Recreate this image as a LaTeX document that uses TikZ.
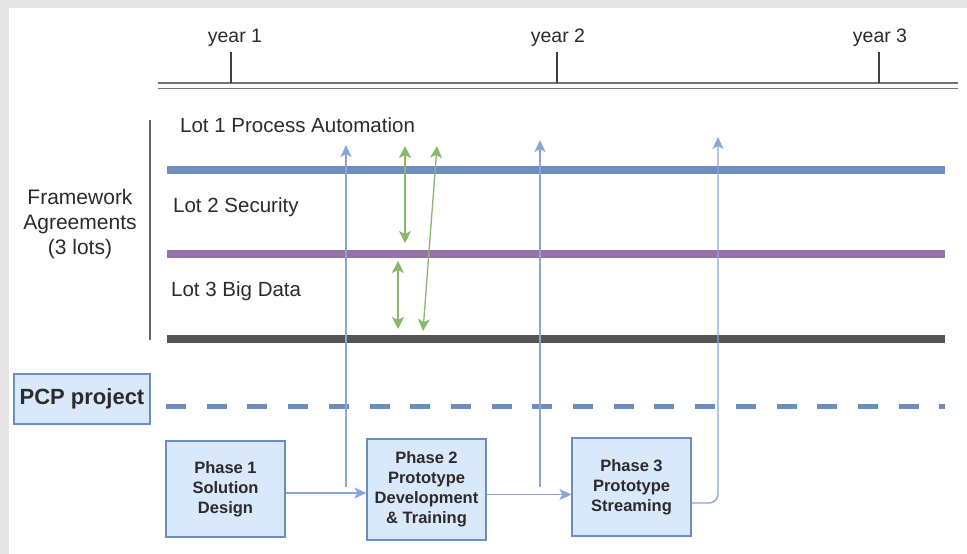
\documentclass[tikz,border=0pt]{standalone}
\usepackage{fontspec}
\setmainfont{Liberation Sans}
\usetikzlibrary{arrows.meta}
\definecolor{bluebar}{HTML}{6C8EBF}
\definecolor{purplebar}{HTML}{9673A6}
\definecolor{darkbar}{HTML}{555555}
\definecolor{greenarr}{HTML}{8CB86E}
\definecolor{boxfill}{HTML}{DAE8FC}
\definecolor{lightblue}{HTML}{8AA6D8}
\definecolor{bgstrip}{HTML}{E6E6E6}
\definecolor{txt}{HTML}{2B2B2B}
\begin{document}
\begin{tikzpicture}[x=1pt,y=-1pt,
  lbl/.style={font=\fontsize{19.5}{25}\selectfont, text=txt, inner sep=0pt},
  phasebox/.style={draw=bluebar, fill=boxfill, line width=1.2pt, minimum width=119pt,
    align=center, font=\bfseries\fontsize{16.5}{20}\selectfont, text=txt, inner sep=0pt},
  barline/.style={line width=8pt},
  conn/.style={draw=lightblue, line width=1.4pt, -{Stealth[length=12pt,width=11pt,inset=3pt]}},
  greenarrow/.style={draw=greenarr, line width=1.6pt,
    {Stealth[length=12pt,width=12pt,inset=3pt]}-{Stealth[length=12pt,width=12pt,inset=3pt]}}
]
\fill[white] (0,0) rectangle (967,554);
\fill[bgstrip] (0,0) rectangle (967,8);
\fill[bgstrip] (0,0) rectangle (8.5,554);
\useasboundingbox (0,0) rectangle (967,554);

% timeline
\draw[black!55, line width=1.4pt] (158,83) -- (958,83);
\draw[black!55, line width=1.4pt] (158,88.5) -- (958,88.5);
\draw[black!75, line width=1.6pt] (231,52) -- (231,83);
\draw[black!75, line width=1.6pt] (557,52) -- (557,83);
\draw[black!75, line width=1.6pt] (879,52) -- (879,83);
\node[lbl] (y1) at (235,38) {year 1};
\node[lbl] (y2) at (558,38) {year 2};
\node[lbl] (y3) at (880,38) {year 3};

% framework agreements
\draw[black!60, line width=1.3pt] (150,120) -- (150,340);
\node[lbl, align=center, font=\fontsize{21}{25}\selectfont] (fa) at (80,224) {Framework\\Agreements\\(3 lots)};
\node[lbl, anchor=west, font=\fontsize{20.5}{25}\selectfont] (l1) at (180,125) {Lot 1 Process Automation};
\node[lbl, anchor=west, font=\fontsize{20.5}{25}\selectfont] (l2) at (173,207) {Lot 2 Security};
\node[lbl, anchor=west, font=\fontsize{20.5}{25}\selectfont] (l3) at (171,291) {Lot 3 Big Data};
\draw[barline, bluebar] (167,170) -- (945,170);
\draw[barline, purplebar] (167,254) -- (945,254);
\draw[barline, darkbar] (167,339) -- (945,339);

% PCP project
\node[draw=bluebar, fill=boxfill, line width=1.2pt, minimum width=136pt, minimum height=50pt,
  font=\bfseries\fontsize{22}{24}\selectfont, text=txt, inner sep=0pt] (pcp) at (82,399) {PCP project};
\draw[bluebar, line width=5.5pt, dash pattern=on 20pt off 20.7pt] (166,406.5) -- (945,406.5);

% phases
\node[phasebox, minimum height=96pt] (p1) at (225.5,489) {Phase 1\\Solution\\Design};
\node[phasebox, minimum height=101pt] (p2) at (426.5,489.5) {Phase 2\\Prototype\\Development\\\& Training};
\node[phasebox, minimum height=98pt] (p3) at (631.5,487) {Phase 3\\Prototype\\Streaming};

\draw[conn] ([yshift=-4pt]p1.east) -- ([yshift=-4pt]p1.east -| p2.west);
\draw[conn] ([yshift=-5pt]p2.east) -- ([yshift=-5pt]p2.east -| p3.west);

\coordinate (a1s) at (346,487);
\coordinate (a1e) at (346,145);
\coordinate (a2s) at (540,487);
\coordinate (a2e) at (540,140);
\coordinate (a3e) at (718,137);
\draw[conn] (a1s) -- (a1e);
\draw[conn] (a2s) -- (a2e);
\draw[conn, rounded corners=9pt] ([yshift=-16pt]p3.east) -| (a3e);

% green links
\coordinate (g1a) at (405,146);
\coordinate (g1b) at (405,243);
\coordinate (g2a) at (398,261);
\coordinate (g2b) at (398,329);
\coordinate (g3a) at (437,146);
\coordinate (g3b) at (423,331);
\draw[greenarrow] (g1a) -- (g1b);
\draw[greenarrow] (g2a) -- (g2b);
\draw[greenarrow, line width=1.3pt] (g3a) -- (g3b);
\end{tikzpicture}
\end{document}
